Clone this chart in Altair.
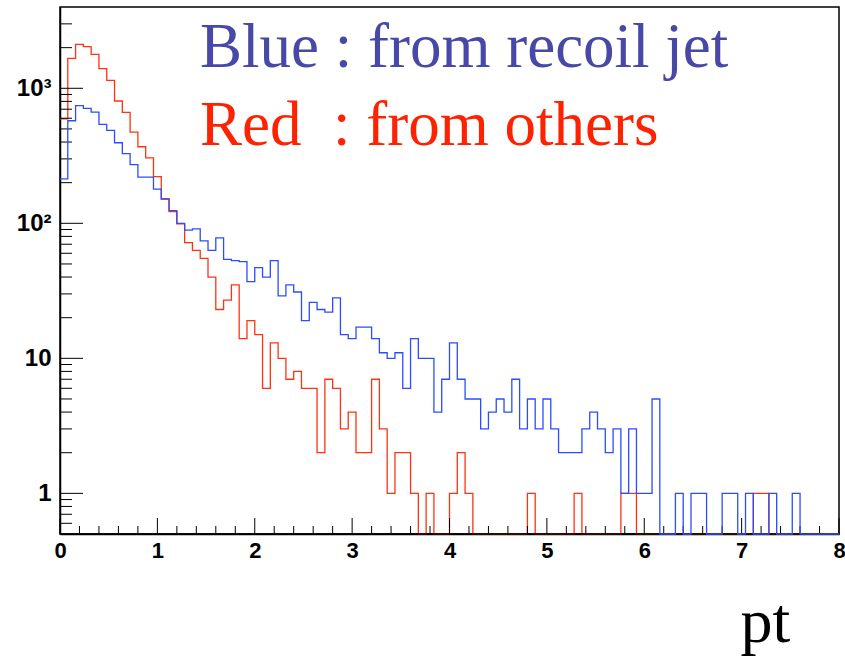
import altair as alt
import pandas as pd

# ---------------- data ----------------
bin_width = 0.08
n_bins = 100

blue_counts = [
    213, 575, 743, 711, 667, 541, 488, 395, 328, 272,
    220, 220, 179, 151, 124, 100, 89, 91, 74, 63,
    78, 54, 53, 52, 37, 47, 40, 53, 29, 35,
    31, 19, 26, 23, 22, 28, 15, 14, 17, 17,
    14, 11, 10, 11, 6, 14, 10, 10, 4, 7,
    13, 7, 5, 5, 3, 4, 5, 4, 7, 3,
    5, 3, 5, 3, 2, 2, 2, 3, 4, 3,
    2, 3, 1, 3, 1, 1, 5, 0, 0, 1,
    0, 1, 1, 0, 0, 1, 1, 0, 1, 0,
    0, 1, 0, 0, 1, 0, 0, 0, 0, 0,
]

red_counts = [
    593, 1668, 2118, 2033, 1786, 1397, 1146, 805, 664, 474,
    369, 305, 222, 152, 122, 99, 72, 63, 55, 40,
    23, 27, 35, 14, 19, 15, 6, 13, 10, 7,
    8, 6, 6, 2, 7, 6, 3, 4, 2, 2,
    7, 3, 1, 2, 2, 1, 0, 1, 0, 0,
    1, 2, 1, 0, 0, 0, 0, 0, 0, 0,
    1, 0, 0, 0, 0, 0, 1, 0, 0, 0,
    0, 0, 1, 1, 0, 0, 0, 0, 0, 0,
    0, 0, 0, 0, 0, 0, 0, 0, 0, 1,
    1, 0, 0, 0, 0, 0, 0, 0, 0, 0,
]

legend_texts = ["Blue : from recoil jet", "Red\u00a0 : from others"]
x_title = "pt"
x_major_ticks = [0, 1, 2, 3, 4, 5, 6, 7, 8]
y_major_ticks = [1, 10, 100, 1000]

y_min, y_max = 0.5, 4000

# ---------------- tables ----------------
def step_table(counts):
    edges = [round(i * bin_width, 4) for i in range(n_bins + 1)]
    vals = list(counts) + [counts[-1]]
    return pd.DataFrame({"x": edges, "count": vals})

blue_df = step_table(blue_counts)
red_df = step_table(red_counts)

x_minor = [round(0.2 * k, 1) for k in range(41) if k % 5 != 0]
y_minor = [m * 10 ** e for e in range(-1, 4) for m in range(2, 10)
           if y_min < m * 10 ** e < y_max and not (m == 5 and e == -1)]

W, H = 779, 527

xscale = alt.Scale(domain=[0, 8], nice=False, zero=False)
yscale = alt.Scale(type="log", domain=[y_min, y_max], nice=False)

BLUE = "#2b4cff"
RED = "#ff3311"

label_expr = ("datum.value == 1000 ? '10³' : datum.value == 100 ? '10²' : "
              "datum.value == 10 ? '10' : '1'")

x_axis = alt.Axis(values=x_major_ticks, ticks=False, grid=False,
                  domainColor="black", domainWidth=1.5,
                  labelFont="Liberation Sans", labelFontWeight="bold",
                  labelFontSize=22, labelColor="black", labelPadding=6,
                  labelFlush=False,
                  title=x_title, titleFont="Liberation Serif", titleFontSize=64,
                  titleFontWeight="normal", titleColor="black",
                  titleX=705, titleY=107, titleAlign="center",
                  titleBaseline="alphabetic")
y_axis = alt.Axis(values=y_major_ticks, labelExpr=label_expr, ticks=False,
                  grid=False, domainColor="black", domainWidth=1.5,
                  labelFont="Liberation Sans", labelFontWeight="bold",
                  labelFontSize=24, labelColor="black", labelPadding=9,
                  title=None)

def line_layer(df, color):
    return alt.Chart(df).transform_calculate(
        yv="max(datum.count, 0.5)"
    ).mark_line(interpolate="step-after", color=color, strokeWidth=1.3).encode(
        x=alt.X("x:Q", scale=xscale, axis=x_axis),
        y=alt.Y("yv:Q", scale=yscale, axis=y_axis),
    )

red_line = line_layer(red_df, RED)
blue_line = line_layer(blue_df, BLUE)

# inward ticks
xmaj = alt.Chart(pd.DataFrame({"x": x_major_ticks})).mark_rule(
    color="black", strokeWidth=1).encode(
    x=alt.X("x:Q", scale=xscale, axis=x_axis),
    y=alt.value(H), y2=alt.value(H - 16))
xmin = alt.Chart(pd.DataFrame({"x": x_minor})).mark_rule(
    color="black", strokeWidth=1).encode(
    x=alt.X("x:Q", scale=xscale, axis=x_axis),
    y=alt.value(H), y2=alt.value(H - 8))
ymaj = alt.Chart(pd.DataFrame({"yv": y_major_ticks})).mark_rule(
    color="black", strokeWidth=1).encode(
    y=alt.Y("yv:Q", scale=yscale, axis=y_axis),
    x=alt.value(0), x2=alt.value(23))
ymin_r = alt.Chart(pd.DataFrame({"yv": y_minor})).mark_rule(
    color="black", strokeWidth=1).encode(
    y=alt.Y("yv:Q", scale=yscale, axis=y_axis),
    x=alt.value(0), x2=alt.value(12))

bottom = alt.Chart(pd.DataFrame({"v": [0]})).mark_rule(
    color="black", strokeWidth=1.5).encode(
    x=alt.value(0), x2=alt.value(W), y=alt.value(H))

blue_txt = alt.Chart(pd.DataFrame({"t": [legend_texts[0]]})).mark_text(
    align="left", baseline="alphabetic", font="Liberation Serif",
    fontSize=63, color="#4848a8").encode(
    x=alt.value(140), y=alt.value(60), text="t:N")
red_txt = alt.Chart(pd.DataFrame({"t": [legend_texts[1]]})).mark_text(
    align="left", baseline="alphabetic", font="Liberation Serif",
    fontSize=63, color="#ff2200").encode(
    x=alt.value(140), y=alt.value(138), text="t:N")

chart = alt.layer(
    red_line, xmaj, xmin, ymaj, ymin_r, bottom, blue_line, blue_txt, red_txt
).properties(
    width=W, height=H,
    autosize=alt.AutoSizeParams(type="none"),
    padding={"left": 60, "top": 7, "right": 6, "bottom": 122},
    background="white",
).configure_view(stroke="black", strokeWidth=1.5)

chart.save("out.html", embed_options={"renderer": "svg", "actions": False})
